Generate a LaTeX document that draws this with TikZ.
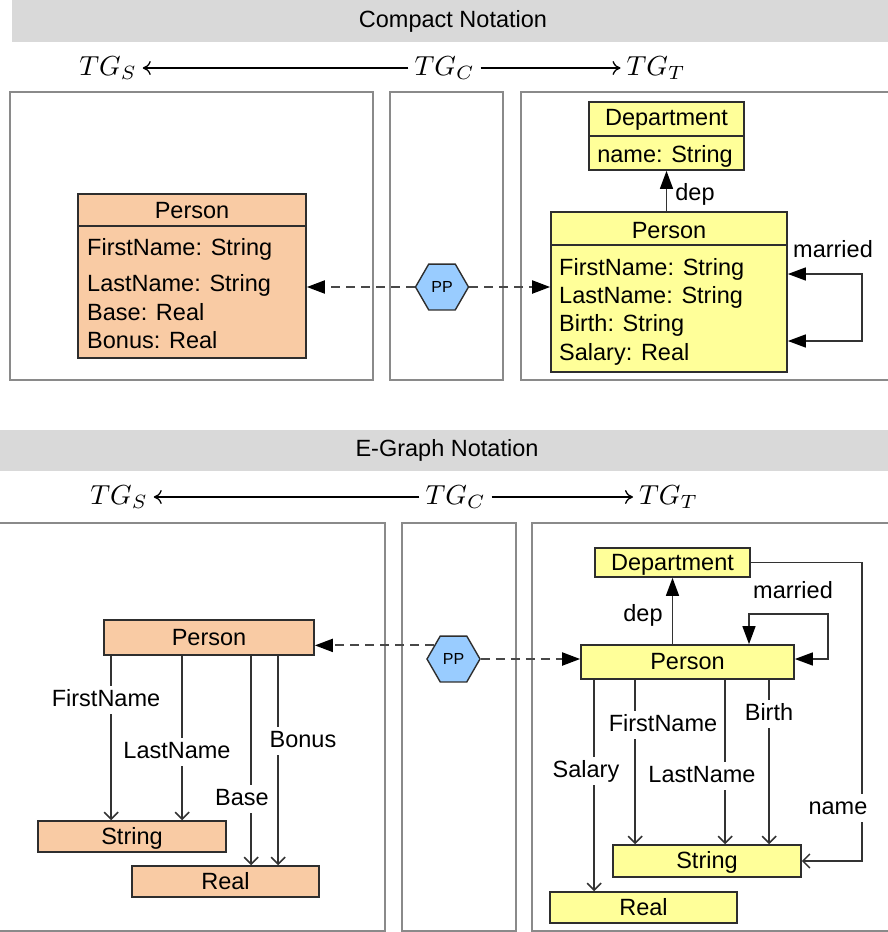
\documentclass[tikz,border=0pt]{standalone}
\usepackage{fontspec}
\setmainfont{Liberation Sans}
\usetikzlibrary{arrows.meta,shapes.geometric,calc}

\definecolor{peach}{HTML}{F9CBA4}
\definecolor{lyellow}{HTML}{FFFF99}
\definecolor{lblue}{HTML}{99CCFF}
\definecolor{bargray}{HTML}{D9D9D9}
\definecolor{panelgray}{HTML}{8A8A8A}
\definecolor{boxline}{HTML}{2E2E2E}
\definecolor{edgegray}{HTML}{333333}
\definecolor{dashgray}{HTML}{484848}

\newcommand{\fs}{\fontsize{23.5}{28}\selectfont}
\newcommand{\fh}{\fontsize{23.5}{28}\selectfont}

\begin{document}
\begin{tikzpicture}[x=1pt,y=-1pt,
  t/.style={font=\fs, text height=17pt, text depth=5pt, inner sep=0pt},
  lbl/.style={t, fill=white, inner sep=3pt},
  tg/.style={inner sep=2pt, scale=2.75},
  hdr/.style={font=\fh, inner sep=0pt},
  panel/.style={draw=panelgray, line width=2.6pt},
  bar/.style={fill=bargray, draw=none},
  cls/.style={draw=boxline, line width=1.7pt, inner sep=0pt},
  src/.style={cls, fill=peach},
  tgt/.style={cls, fill=lyellow},
  hexa/.style={draw=boxline, line width=1.4pt, fill=lblue, regular polygon,
    regular polygon sides=6, minimum size=53pt, inner sep=0pt,
    font=\fontsize{16}{19}\selectfont},
  edge/.style={draw=edgegray, line width=1.5pt},
  oa/.style={edge, -{Straight Barb[length=7pt,width=14pt,line width=1.5pt]}},
  tri/.tip={Triangle[length=18pt,width=13pt,fill=black,color=black]},
  fa/.style={edge, -tri},
  faa/.style={edge, tri-tri},
  dsh/.style={draw=dashgray, line width=2pt, dash pattern=on 9pt off 6pt, -tri},
  tgarrow/.style={draw=black, line width=1.3pt, -{Computer Modern Rightarrow[length=8pt,width=14pt]}}
]
\useasboundingbox (0,0) rectangle (888,932);
\clip (0,0) rectangle (888,932);

% ---------------- Compact notation ----------------
\fill[bar] (12,0) rectangle (888,42);
\node[hdr] (h1) at (453,21) {Compact Notation};

\node[tg] (tgs1) at (108,68) {$TG_S$};
\node[tg] (tgc1) at (444.5,68) {$TG_C$};
\node[tg] (tgt1) at (656,68) {$TG_T$};
\draw[tgarrow] (tgc1.west) -- (tgs1.east);
\draw[tgarrow] (tgc1.east) -- (tgt1.west);

\draw[panel] (10,92) rectangle (373,380);
\draw[panel] (390,92) rectangle (503,380);
\draw[panel] (521,92) rectangle (900,380);

% source class
\node[src, minimum width=228pt, minimum height=164pt] (pS) at (192,276) {};
\draw[cls] ($(pS.north west)+(0,33)$) -- ($(pS.north east)+(0,33)$);
\node[t] (pSn) at (192,212) {Person};
\node[t, anchor=west] (pSa) at (87,249) {FirstName: String};
\node[t, anchor=west] (pSb) at (87,285) {LastName: String};
\node[t, anchor=west] (pSc) at (87,314) {Base: Real};
\node[t, anchor=west] (pSd) at (87,342) {Bonus: Real};

% target classes
\node[tgt, minimum width=155pt, minimum height=68pt] (dT) at (666.5,136) {};
\draw[cls] ($(dT.north west)+(0,35)$) -- ($(dT.north east)+(0,35)$);
\node[t] (dTn) at (666.5,119) {Department};
\node[t] (dTa) at (665,156) {name: String};

\node[tgt, minimum width=236pt, minimum height=160pt] (pT) at (669,292) {};
\draw[cls] ($(pT.north west)+(0,34)$) -- ($(pT.north east)+(0,34)$);
\node[t] (pTn) at (669,232) {Person};
\node[t, anchor=west] (pTa) at (559,269) {FirstName: String};
\node[t, anchor=west] (pTb) at (559,297) {LastName: String};
\node[t, anchor=west] (pTc) at (559,325) {Birth: String};
\node[t, anchor=west] (pTd) at (559,354) {Salary: Real};

\draw[fa] (dT.south |- pT.north) -- (dT.south);
\node[t] (depT) at (695,194) {dep};

\coordinate (m1) at (862,341);
\coordinate (m2) at (862,274);
\draw[faa] (pT.east |- m2) -- (m2) -- (m1) -- (pT.east |- m1);
\node[t] (marT) at (833,251) {married};

% correspondence
\node[hexa] (hexT) at (442,287) {PP};
\draw[dsh] (hexT.west) -- (hexT.west -| pS.east);
\draw[dsh] (hexT.east) -- (hexT.east -| pT.west);

% ---------------- E-Graph notation ----------------
\fill[bar] (0,430) rectangle (888,471);
\node[hdr] (h2) at (447,450) {E-Graph Notation};

\node[tg] (tgs2) at (119,497) {$TG_S$};
\node[tg] (tgc2) at (455.5,497) {$TG_C$};
\node[tg] (tgt2) at (668.5,497) {$TG_T$};
\draw[tgarrow] (tgc2.west) -- (tgs2.east);
\draw[tgarrow] (tgc2.east) -- (tgt2.west);

\draw[panel] (-5,523) rectangle (385,931);
\draw[panel] (402,523) rectangle (516,931);
\draw[panel] (532,523) rectangle (900,931);

% source graph
\node[src, minimum width=210pt, minimum height=35pt] (pSE) at (209,637.5) {};
\node[t] (pSEn) at (209,639) {Person};
\node[src, minimum width=188pt, minimum height=31pt] (sSE) at (132,836.5) {};
\node[t] (sSEn) at (132,838) {String};
\node[src, minimum width=187pt, minimum height=31pt] (rSE) at (225.5,881.5) {};
\node[t] (rSEn) at (225.5,883) {Real};

\draw[oa] ([xshift=8pt]pSE.south west) -- ([xshift=8pt]pSE.south west |- sSE.north);
\draw[oa] ([xshift=79pt]pSE.south west) -- ([xshift=79pt]pSE.south west |- sSE.north);
\draw[oa] ([xshift=148pt]pSE.south west) -- ([xshift=148pt]pSE.south west |- rSE.north);
\draw[oa] ([xshift=175pt]pSE.south west) -- ([xshift=175pt]pSE.south west |- rSE.north);
\node[lbl] (lfS) at (106,700) {FirstName};
\node[lbl] (llS) at (177,752) {LastName};
\node[lbl] (lbS) at (242,799) {Base};
\node[lbl] (loS) at (303,741) {Bonus};

% target graph
\node[tgt, minimum width=155pt, minimum height=29pt] (dE) at (672.5,562.5) {};
\node[t] (dEn) at (672.5,564) {Department};
\node[tgt, minimum width=213pt, minimum height=34pt] (pE) at (687.5,662) {};
\node[t] (pEn) at (687.5,663.5) {Person};
\node[tgt, minimum width=188pt, minimum height=32pt] (sE) at (707,861) {};
\node[t] (sEn) at (707,862.5) {String};
\node[tgt, minimum width=187pt, minimum height=31pt] (rE) at (643.5,907.5) {};
\node[t] (rEn) at (643.5,909) {Real};

\draw[oa] ([xshift=14pt]pE.south west) -- ([xshift=14pt]pE.south west |- rE.north);
\draw[oa] ([xshift=55pt]pE.south west) -- ([xshift=55pt]pE.south west |- sE.north);
\draw[oa] ([xshift=145pt]pE.south west) -- ([xshift=145pt]pE.south west |- sE.north);
\draw[oa] ([xshift=189pt]pE.south west) -- ([xshift=189pt]pE.south west |- sE.north);

\coordinate (n1) at (862,0);
\draw[oa] (dE.east) -- (n1 |- dE.east) -- (n1 |- sE.east) -- (sE.east);

\draw[fa] (dE.south |- pE.north) -- (dE.south);
\node[t] (depE) at (643,615) {dep};

\coordinate (mm1) at (828,659);
\coordinate (mm2) at (828,614);
\coordinate (mm3) at (749,614);
\draw[faa] (pE.east |- mm1) -- (mm1) -- (mm2) -- (mm3) -- (mm3 |- pE.north);
\node[t] (marE) at (793,592) {married};

\node[lbl] (lsE) at (586,771) {Salary};
\node[lbl] (lfE) at (663,725) {FirstName};
\node[lbl] (llE) at (702,776) {LastName};
\node[lbl] (lbE) at (769,714) {Birth};
\node[lbl] (lnE) at (838,808) {name};

% correspondence
\node[hexa] (hexE) at (453.5,659) {PP};
\draw[dsh] (hexE.145) -- (hexE.145 -| pSE.east);
\draw[dsh] (hexE.east) -- (hexE.east -| pE.west);
\end{tikzpicture}
\end{document}
